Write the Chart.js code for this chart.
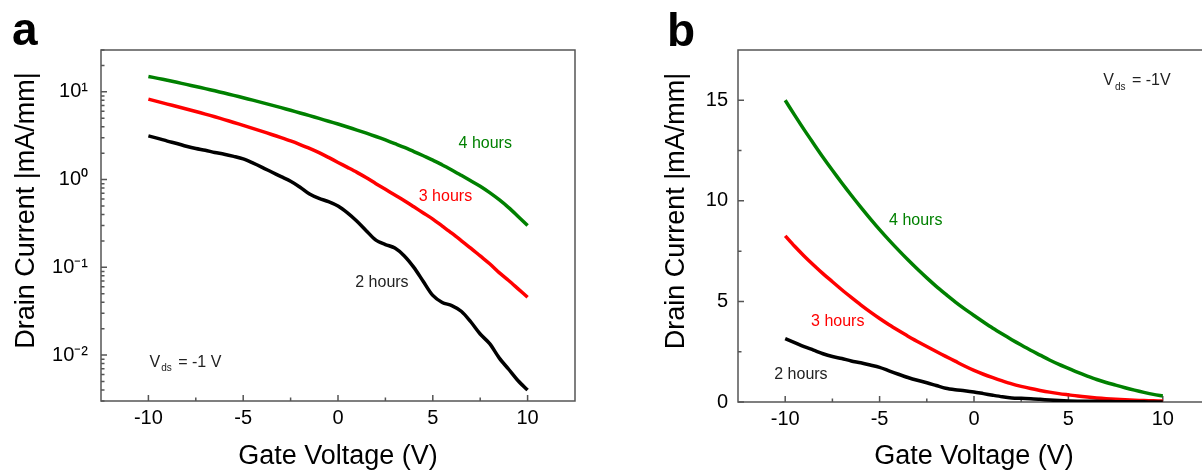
<!DOCTYPE html>
<html>
<head>
<meta charset="utf-8">
<title>Drain current vs gate voltage</title>
<script src="https://cdn.jsdelivr.net/npm/chart.js@4.4.0/dist/chart.umd.min.js"></script>
<style>
  html, body { margin: 0; padding: 0; background: #fff; overflow: hidden; }
  body { width: 1202px; height: 470px; position: relative; }
  .panel { position: absolute; top: 0; }
</style>
</head>
<body>
<div class="panel" style="left:0"><canvas id="chartA" width="600" height="470"></canvas></div>
<div class="panel" style="left:600px"><canvas id="chartB" width="635" height="470"></canvas></div>

<script>
// gate voltage (V) and |drain current| (mA/mm)
const gateVoltage = [-10, -9.5, -9, -8.5, -8, -7.5, -7, -6.5, -6, -5.5, -5, -4.5, -4, -3.5, -3, -2.5, -2, -1.5, -1, -0.5,
  0, 0.5, 1, 1.5, 2, 2.5, 3, 3.5, 4, 4.5, 5, 5.5, 6, 6.5, 7, 7.5, 8, 8.5, 9, 9.5, 10];
const current2h = [3.15, 2.95, 2.75, 2.58, 2.40, 2.26, 2.16, 2.04, 1.95, 1.84, 1.72, 1.55, 1.38, 1.22, 1.08, 0.957, 0.82, 0.684, 0.61, 0.562,
  0.50, 0.417, 0.335, 0.26, 0.204, 0.182, 0.166, 0.135, 0.10, 0.069, 0.0479, 0.0398, 0.0367, 0.0316, 0.024, 0.0174, 0.0135, 0.0093, 0.0069, 0.0051, 0.004];
const current3h = [8.26, 7.74, 7.26, 6.81, 6.38, 5.98, 5.58, 5.20, 4.83, 4.48, 4.15, 3.84, 3.55, 3.27, 3.01, 2.76, 2.51, 2.27, 2.03, 1.79,
  1.57, 1.38, 1.21, 1.05, 0.90, 0.776, 0.668, 0.575, 0.49, 0.417, 0.355, 0.295, 0.245, 0.202, 0.166, 0.135, 0.110, 0.087, 0.0708, 0.0569, 0.0457];
const current4h = [15.0, 14.26, 13.54, 12.85, 12.17, 11.52, 10.89, 10.28, 9.69, 9.12, 8.57, 8.05, 7.55, 7.07, 6.61, 6.17, 5.75, 5.36, 4.98, 4.63,
  4.30, 3.98, 3.67, 3.38, 3.10, 2.83, 2.57, 2.33, 2.09, 1.87, 1.67, 1.47, 1.29, 1.12, 0.97, 0.84, 0.71, 0.59, 0.48, 0.38, 0.30];

const seriesNames = ['2 hours', '3 hours', '4 hours'];
const seriesColors = ['#000000', '#ff0000', '#008000'];

// axis ticks
const xTicks = [-10, -7.5, -5, -2.5, 0, 2.5, 5, 7.5, 10];
const xTickLabels = ['-10', '', '-5', '', '0', '', '5', '', '10'];
const logDecades = [0.001, 0.01, 0.1, 1, 10];
const logTickLabels = ['', '10\u207B\u00B2', '10\u207B\u00B9', '10\u2070', '10\u00B9'];
const linTicks = [0, 2.5, 5, 7.5, 10, 12.5, 15];
const linTickLabels = ['0', '', '5', '', '10', '', '15'];

const FONT = '"Liberation Sans", Arial, Helvetica, sans-serif';
const AXIS_COLOR = '#555';

function makeDatasets() {
  const all = [current2h, current3h, current4h];
  return all.map((arr, i) => ({
    label: seriesNames[i],
    data: gateVoltage.map((v, j) => ({ x: v, y: arr[j] })),
    borderColor: seriesColors[i],
    backgroundColor: seriesColors[i],
    borderWidth: 3.5,
    pointRadius: 0,
    tension: 0.3
  }));
}

// axis box, inward tick marks, panel letter and the text notes
const framePlugin = {
  id: 'frame',
  beforeDatasetsDraw(chart) {
    const ctx = chart.ctx;
    const a = chart.chartArea;
    const xs = chart.scales.x, ys = chart.scales.y;
    ctx.save();
    ctx.strokeStyle = AXIS_COLOR;
    ctx.lineWidth = 1.5;
    ctx.strokeRect(a.left, a.top, a.right - a.left, a.bottom - a.top);
    ctx.beginPath();
    xs.ticks.forEach(t => {
      const px = xs.getPixelForValue(t.value);
      const len = t.major ? 6 : 3.5;
      ctx.moveTo(px, a.bottom);
      ctx.lineTo(px, a.bottom - len);
    });
    ys.ticks.forEach(t => {
      const py = ys.getPixelForValue(t.value);
      const len = t.major ? 6 : 3.5;
      ctx.moveTo(a.left, py);
      ctx.lineTo(a.left + len, py);
    });
    ctx.stroke();
    ctx.restore();
  },
  afterDraw(chart, args, opts) {
    const ctx = chart.ctx;
    const xs = chart.scales.x, ys = chart.scales.y;
    ctx.save();
    ctx.fillStyle = '#000';
    ctx.font = 'bold 46px ' + FONT;
    ctx.textBaseline = 'alphabetic';
    ctx.fillText(opts.letter.text, opts.letter.x, opts.letter.y);

    ctx.textBaseline = 'middle';
    ctx.textAlign = 'left';
    opts.notes.forEach(n => {
      const px = xs.getPixelForValue(n.x);
      const py = ys.getPixelForValue(n.y);
      ctx.fillStyle = n.color;
      ctx.font = '16px ' + FONT;
      if (n.sub) {
        ctx.fillText(n.text, px, py);
        let w = ctx.measureText(n.text).width + 1;
        ctx.font = '10px ' + FONT;
        ctx.fillText(n.sub, px + w, py + 6);
        w += ctx.measureText(n.sub).width + 2;
        ctx.font = '16px ' + FONT;
        ctx.fillText(n.rest, px + w, py);
      } else {
        ctx.fillText(n.text, px, py);
      }
    });
    ctx.restore();
  }
};

function xAxis(height) {
  return {
    type: 'linear',
    min: -12.5,
    max: 12.5,
    afterBuildTicks: s => { s.ticks = xTicks.map((v, i) => ({ value: v, major: xTickLabels[i] !== '' })); },
    afterFit: s => { s.height = height; },
    ticks: {
      autoSkip: false, maxRotation: 0, padding: 7, color: '#000',
      font: { family: FONT, size: 20, lineHeight: 1 },
      callback: v => { const i = xTicks.indexOf(v); return i >= 0 ? xTickLabels[i] : ''; }
    },
    grid: { display: false, drawTicks: false },
    border: { display: false },
    title: {
      display: true, text: 'Gate Voltage (V)', color: '#000',
      font: { family: FONT, size: 27, lineHeight: 1 },
      padding: { top: 0, bottom: 0 }
    }
  };
}

function yTitle(pad) {
  return {
    display: true, text: '\u00a0\u00a0\u00a0\u00a0Drain Current |mA/mm|', color: '#000',
    font: { family: FONT, size: 27, lineHeight: 1 },
    padding: { top: pad, bottom: 0 }
  };
}

const logTicks = [];
logDecades.forEach(d => {
  for (let m = 1; m <= 9; m++) {
    const v = +(m * d).toPrecision(3);
    if (v >= 0.003 && v <= 30) logTicks.push({ value: v, major: m === 1 });
  }
});

new Chart(document.getElementById('chartA'), {
  type: 'line',
  data: { datasets: makeDatasets() },
  plugins: [framePlugin],
  options: {
    responsive: false,
    animation: false,
    events: [],
    layout: { padding: { left: 0, top: 50, right: 25, bottom: 0 } },
    scales: {
      x: xAxis(69),
      y: {
        type: 'logarithmic',
        min: 0.003,
        max: 30,
        afterBuildTicks: s => { s.ticks = logTicks.map(t => ({ value: t.value, major: t.major })); },
        afterFit: s => { s.width = 101; },
        ticks: {
          autoSkip: false, padding: 13, color: '#000',
          font: { family: FONT, size: 20, lineHeight: 1 },
          callback: v => { const i = logDecades.indexOf(v); return i >= 0 ? logTickLabels[i] : ''; }
        },
        grid: { display: false, drawTicks: false },
        border: { display: false },
        title: yTitle(13.5)
      }
    },
    plugins: {
      legend: { display: false },
      tooltip: { enabled: false },
      frame: {
        letter: { text: 'a', x: 12, y: 45 },
        notes: [
          { text: '4 hours', x: 6.36, y: 2.54, color: seriesColors[2] },
          { text: '3 hours', x: 4.26, y: 0.637, color: seriesColors[1] },
          { text: '2 hours', x: 0.91, y: 0.0676, color: '#222' },
          { text: 'V', sub: 'ds', rest: ' = -1 V', x: -9.94, y: 0.0082, color: '#222' }
        ]
      }
    }
  }
});

new Chart(document.getElementById('chartB'), {
  type: 'line',
  data: { datasets: makeDatasets() },
  plugins: [framePlugin],
  options: {
    responsive: false,
    animation: false,
    events: [],
    layout: { padding: { left: 0, top: 50, right: 25, bottom: 0 } },
    scales: {
      x: xAxis(68),
      y: {
        type: 'linear',
        min: 0,
        max: 17.5,
        afterBuildTicks: s => { s.ticks = linTicks.map((v, i) => ({ value: v, major: linTickLabels[i] !== '' })); },
        afterFit: s => { s.width = 138; },
        ticks: {
          autoSkip: false, padding: 10, color: '#000',
          font: { family: FONT, size: 20, lineHeight: 1 },
          callback: v => { const i = linTicks.indexOf(v); return i >= 0 ? linTickLabels[i] : ''; }
        },
        grid: { display: false, drawTicks: false },
        border: { display: false },
        title: yTitle(63.5)
      }
    },
    plugins: {
      legend: { display: false },
      tooltip: { enabled: false },
      frame: {
        letter: { text: 'b', x: 67, y: 46 },
        notes: [
          { text: '4 hours', x: -4.5, y: 9.04, color: seriesColors[2] },
          { text: '3 hours', x: -8.63, y: 4.01, color: seriesColors[1] },
          { text: '2 hours', x: -10.58, y: 1.36, color: '#222' },
          { text: 'V', sub: 'ds', rest: ' = -1V', x: 6.85, y: 15.96, color: '#222' }
        ]
      }
    }
  }
});
</script>
</body>
</html>
